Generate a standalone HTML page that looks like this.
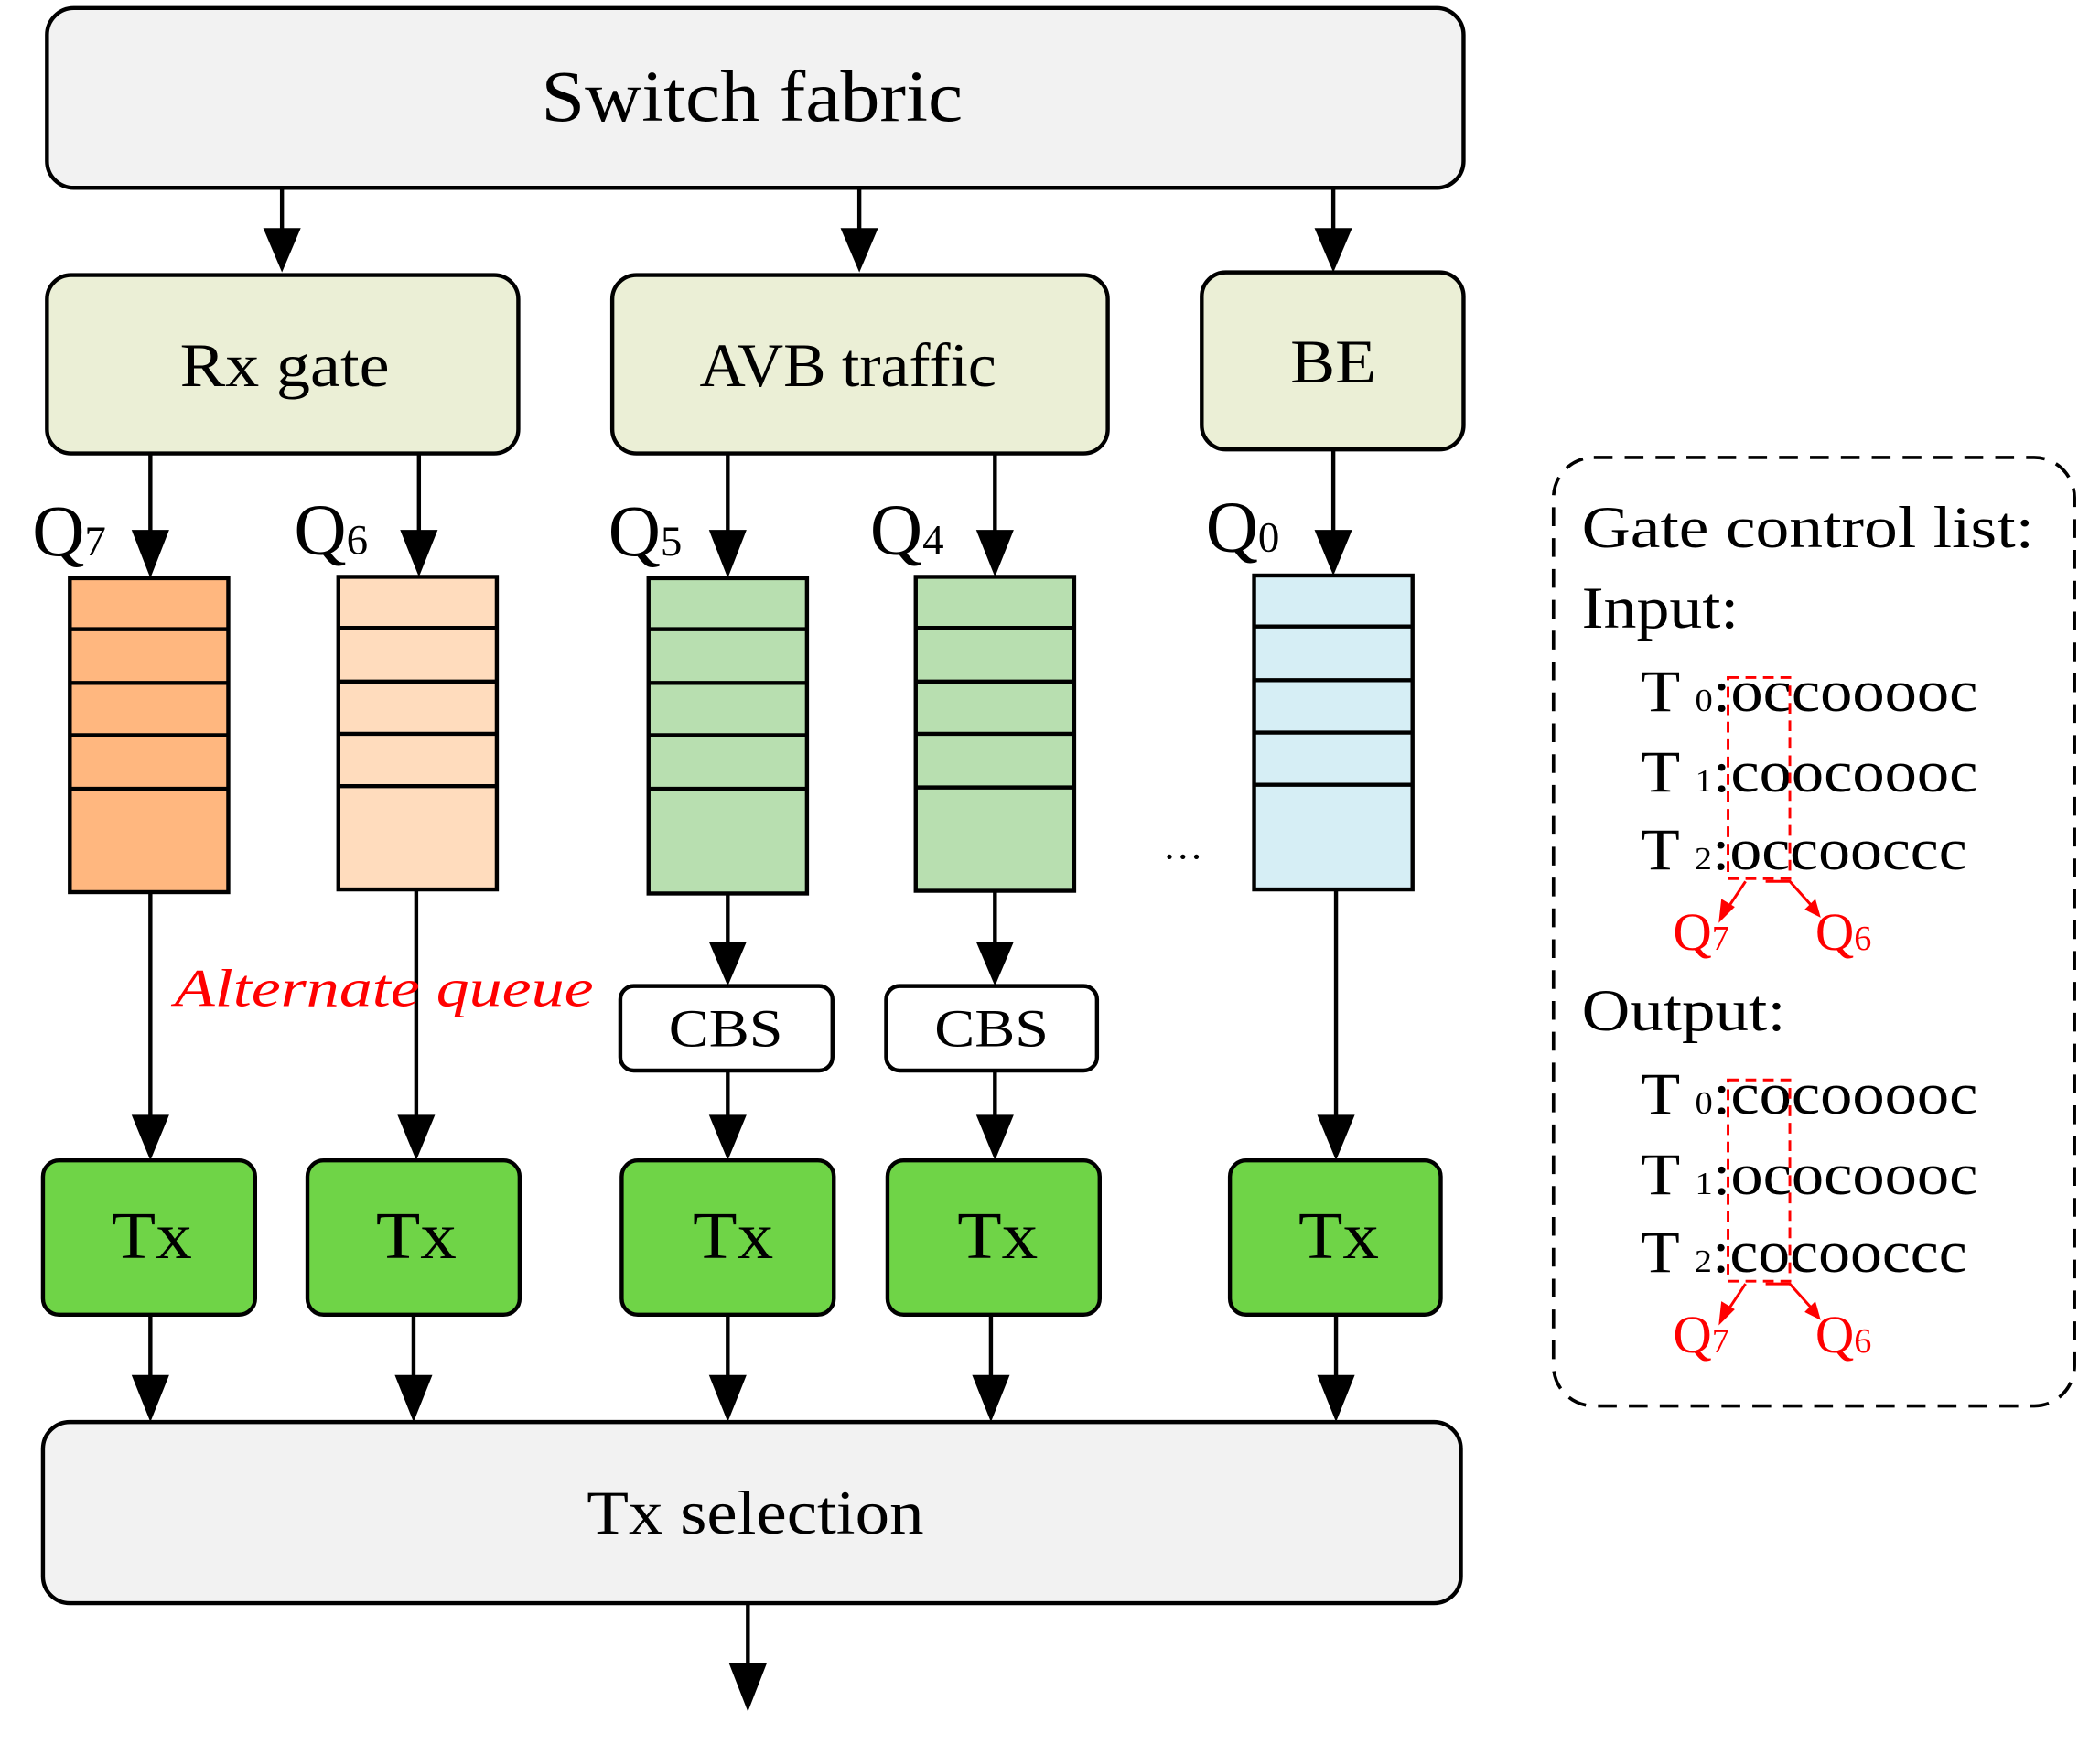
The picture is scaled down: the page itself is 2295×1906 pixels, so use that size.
<!DOCTYPE html>
<html><head><meta charset="utf-8"><style>html,body{margin:0;padding:0;background:#fff}svg{display:block}</style></head>
<body>
<svg width="2295" height="1906" viewBox="0 0 1564 1300" preserveAspectRatio="none" xmlns="http://www.w3.org/2000/svg" font-family="'Liberation Serif', serif">
<g stroke="#000" stroke-width="3">
<rect x="35" y="6" width="1055" height="134" rx="20" fill="#f2f2f2"/>
<rect x="35" y="205" width="351" height="133" rx="18" fill="#ebefd6"/>
<rect x="456" y="205" width="369" height="133" rx="18" fill="#ebefd6"/>
<rect x="895" y="203" width="195" height="132" rx="18" fill="#ebefd6"/>
<path d="M210 140V175M640 140V175M993 140V175M112 338V400M312 338V400M542 338V400M741 338V400M993 335V400M112 665V835M310 663V835M542 666V705M741 664V705M542 798V835M741 798V835M995 663V835M112 980V1030M308 980V1030M542 980V1030M738 980V1030M995 980V1030M557 1195V1245" fill="none"/>
<g fill="#ffb77f"><rect x="52" y="431" width="118" height="234"/></g>
<g fill="#ffdcbd"><rect x="252" y="430" width="118" height="233"/></g>
<g fill="#b8dfb0"><rect x="483" y="431" width="118" height="235"/><rect x="682" y="430" width="118" height="234"/></g>
<g fill="#d6eef5"><rect x="934" y="429" width="118" height="234"/></g>
<path d="M52 469H170M52 509H170M52 548H170M52 588H170M252 468H370M252 508H370M252 547H370M252 586H370M483 469H601M483 509H601M483 548H601M483 588H601M682 468H800M682 508H800M682 547H800M682 587H800M934 467H1052M934 507H1052M934 546H1052M934 585H1052" fill="none"/>
<rect x="462" y="735" width="158" height="63" rx="10" fill="#fff"/>
<rect x="660" y="735" width="157" height="63" rx="10" fill="#fff"/>
<g fill="#6fd447">
<rect x="32" y="865" width="158" height="115" rx="12"/>
<rect x="229" y="865" width="158" height="115" rx="12"/>
<rect x="463" y="865" width="158" height="115" rx="12"/>
<rect x="661" y="865" width="158" height="115" rx="12"/>
<rect x="916" y="865" width="157" height="115" rx="12"/>
</g>
<rect x="32" y="1060" width="1056" height="135" rx="20" fill="#f2f2f2"/>
</g>
<g fill="#000">
<polygon points="196,170 224,170 210,203"/>
<polygon points="626,170 654,170 640,203"/>
<polygon points="979,170 1007,170 993,203"/>
<polygon points="98,395 126,395 112,431"/>
<polygon points="298,395 326,395 312,430"/>
<polygon points="528,395 556,395 542,431"/>
<polygon points="727,395 755,395 741,430"/>
<polygon points="979,395 1007,395 993,429"/>
<polygon points="528,702 556,702 542,735"/>
<polygon points="727,702 755,702 741,735"/>
<polygon points="98,831 126,831 112,865"/>
<polygon points="296,831 324,831 310,865"/>
<polygon points="528,831 556,831 542,865"/>
<polygon points="727,831 755,831 741,865"/>
<polygon points="981,831 1009,831 995,865"/>
<polygon points="98,1025 126,1025 112,1060"/>
<polygon points="294,1025 322,1025 308,1060"/>
<polygon points="528,1025 556,1025 542,1060"/>
<polygon points="724,1025 752,1025 738,1060"/>
<polygon points="981,1025 1009,1025 995,1060"/>
<polygon points="543,1240 571,1240 557,1276"/>
</g>
<g fill="#000" lengthAdjust="spacingAndGlyphs">
<text x="403" y="90" font-size="54" textLength="314" lengthAdjust="spacingAndGlyphs">Switch fabric</text>
<text x="134" y="288" font-size="46" textLength="156" lengthAdjust="spacingAndGlyphs">Rx gate</text>
<text x="521" y="288" font-size="46" textLength="221" lengthAdjust="spacingAndGlyphs">AVB traffic</text>
<text x="961" y="285" font-size="46" textLength="64" lengthAdjust="spacingAndGlyphs">BE</text>
<text x="498" y="780" font-size="40" textLength="85" lengthAdjust="spacingAndGlyphs">CBS</text>
<text x="696" y="780" font-size="40" textLength="85" lengthAdjust="spacingAndGlyphs">CBS</text>
<text x="83" y="938" font-size="50" textLength="60" lengthAdjust="spacingAndGlyphs">Tx</text>
<text x="280" y="938" font-size="50" textLength="60" lengthAdjust="spacingAndGlyphs">Tx</text>
<text x="516" y="938" font-size="50" textLength="60" lengthAdjust="spacingAndGlyphs">Tx</text>
<text x="713" y="938" font-size="50" textLength="60" lengthAdjust="spacingAndGlyphs">Tx</text>
<text x="967" y="938" font-size="50" textLength="60" lengthAdjust="spacingAndGlyphs">Tx</text>
<text x="437" y="1143" font-size="46" textLength="251" lengthAdjust="spacingAndGlyphs">Tx selection</text>
<text x="866" y="640" font-size="30">…</text>
</g>
<g fill="#000" font-size="54">
<text x="24" y="414">Q<tspan font-size="32">7</tspan></text>
<text x="219" y="413">Q<tspan font-size="32">6</tspan></text>
<text x="453" y="414">Q<tspan font-size="32">5</tspan></text>
<text x="648" y="413">Q<tspan font-size="32">4</tspan></text>
<text x="898" y="411">Q<tspan font-size="32">0</tspan></text>
</g>
<text x="130" y="750" font-size="40" font-style="italic" fill="#ff0000" textLength="312" lengthAdjust="spacingAndGlyphs">Alternate queue</text>
<rect x="1157" y="341" width="388" height="707" rx="30" fill="none" stroke="#000" stroke-width="2.5" stroke-dasharray="14,9"/>
<g fill="#000" font-size="44">
<text x="1178" y="408" textLength="337" lengthAdjust="spacingAndGlyphs">Gate control list:</text>
<text x="1178" y="468" textLength="117" lengthAdjust="spacingAndGlyphs">Input:</text>
<text x="1222" y="530" textLength="251" lengthAdjust="spacingAndGlyphs">T <tspan font-size="24">0</tspan>:occooooc</text>
<text x="1222" y="590" textLength="251" lengthAdjust="spacingAndGlyphs">T <tspan font-size="24">1</tspan>:coocoooc</text>
<text x="1222" y="648" textLength="243" lengthAdjust="spacingAndGlyphs">T <tspan font-size="24">2</tspan>:occooccc</text>
<text x="1178" y="768" textLength="152" lengthAdjust="spacingAndGlyphs">Output:</text>
<text x="1222" y="830" textLength="251" lengthAdjust="spacingAndGlyphs">T <tspan font-size="24">0</tspan>:cocooooc</text>
<text x="1222" y="890" textLength="251" lengthAdjust="spacingAndGlyphs">T <tspan font-size="24">1</tspan>:ococoooc</text>
<text x="1222" y="948" textLength="243" lengthAdjust="spacingAndGlyphs">T <tspan font-size="24">2</tspan>:cocooccc</text>
</g>
<g fill="#ff0000" font-size="40">
<text x="1246" y="708">Q<tspan font-size="26">7</tspan></text>
<text x="1352" y="708">Q<tspan font-size="26">6</tspan></text>
<text x="1246" y="1008">Q<tspan font-size="26">7</tspan></text>
<text x="1352" y="1008">Q<tspan font-size="26">6</tspan></text>
</g>
<g stroke="#ff0000" stroke-width="2" fill="none">
<rect x="1287" y="505" width="46" height="150" stroke-dasharray="8,5"/>
<rect x="1287" y="805" width="46" height="150" stroke-dasharray="8,5"/>
<path d="M1300 657L1286 678M1315 657H1333L1350 676M1300 957L1286 978M1315 957H1333L1350 976"/>
</g>
<g fill="#ff0000">
<polygon points="1280,688 1282,670 1292,676"/>
<polygon points="1356,684 1344,678 1352,670"/>
<polygon points="1280,988 1282,970 1292,976"/>
<polygon points="1356,984 1344,978 1352,970"/>
</g>
</svg>
</body></html>
